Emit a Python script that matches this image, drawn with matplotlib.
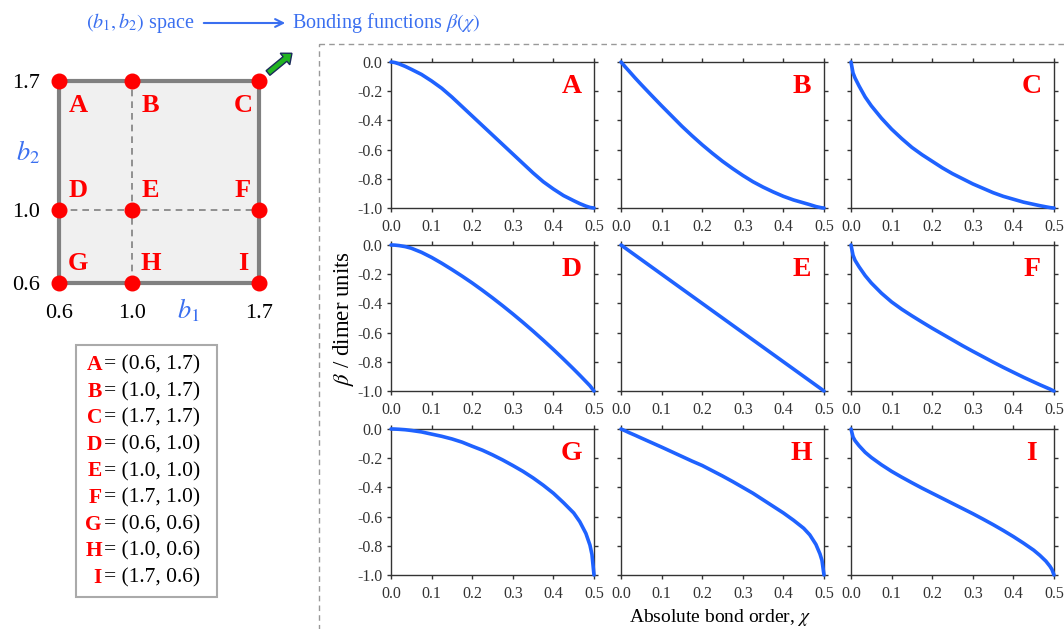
import numpy as np
import matplotlib.pyplot as plt
from matplotlib.patches import Rectangle, FancyArrow

# (b1, b2) grid points
point_labels = ['A', 'B', 'C', 'D', 'E', 'F', 'G', 'H', 'I']
b1_vals = [0.6, 1.0, 1.7, 0.6, 1.0, 1.7, 0.6, 1.0, 1.7]
b2_vals = [1.7, 1.7, 1.7, 1.0, 1.0, 1.0, 0.6, 0.6, 0.6]
b_ticks = [0.6, 1.0, 1.7]

# bonding functions beta(chi)
chi = [0, 0.005, 0.01, 0.02, 0.035, 0.05, 0.075, 0.1, 0.125, 0.15, 0.175, 0.2, 0.225, 0.25,
       0.275, 0.3, 0.325, 0.35, 0.375, 0.4, 0.425, 0.45, 0.465, 0.48, 0.49, 0.495, 0.5]
beta_A = [0, -0.0015, -0.004, -0.013, -0.03, -0.05, -0.085, -0.13, -0.18, -0.24, -0.305, -0.37, -0.435, -0.5,
          -0.565, -0.63, -0.695, -0.76, -0.82, -0.87, -0.915, -0.95, -0.97, -0.987, -0.996, -0.9985, -1.0]
beta_B = [0, -0.016, -0.032, -0.063, -0.11, -0.155, -0.228, -0.30, -0.37, -0.44, -0.505, -0.567, -0.625, -0.68,
          -0.73, -0.777, -0.82, -0.857, -0.89, -0.92, -0.945, -0.965, -0.977, -0.99, -0.996, -0.999, -1.0]
beta_C = [0, -0.075, -0.11, -0.165, -0.24, -0.30, -0.385, -0.46, -0.525, -0.585, -0.635, -0.68, -0.725, -0.765,
          -0.80, -0.835, -0.865, -0.895, -0.92, -0.94, -0.96, -0.975, -0.984, -0.992, -0.997, -0.999, -1.0]
beta_D = [0, -0.0003, -0.001, -0.004, -0.011, -0.022, -0.05, -0.085, -0.125, -0.168, -0.213, -0.26, -0.31, -0.362,
          -0.416, -0.472, -0.53, -0.59, -0.652, -0.716, -0.782, -0.85, -0.892, -0.935, -0.964, -0.982, -1.0]
beta_E = [0, -0.01, -0.02, -0.04, -0.07, -0.1, -0.15, -0.2, -0.25, -0.3, -0.35, -0.4, -0.45, -0.5,
          -0.55, -0.6, -0.65, -0.7, -0.75, -0.8, -0.85, -0.9, -0.93, -0.96, -0.98, -0.99, -1.0]
beta_F = [0, -0.07, -0.105, -0.15, -0.21, -0.26, -0.33, -0.39, -0.44, -0.485, -0.528, -0.57, -0.61, -0.65,
          -0.69, -0.728, -0.765, -0.802, -0.838, -0.872, -0.906, -0.938, -0.957, -0.975, -0.987, -0.994, -1.0]
beta_G = [0, 0, -0.0005, -0.002, -0.005, -0.01, -0.02, -0.035, -0.05, -0.068, -0.09, -0.118, -0.145, -0.177,
          -0.212, -0.25, -0.29, -0.335, -0.385, -0.44, -0.505, -0.575, -0.635, -0.715, -0.795, -0.86, -1.0]
beta_H = [0, -0.006, -0.012, -0.025, -0.043, -0.062, -0.093, -0.124, -0.156, -0.188, -0.22, -0.25, -0.286, -0.322,
          -0.36, -0.40, -0.44, -0.485, -0.53, -0.575, -0.625, -0.68, -0.725, -0.79, -0.855, -0.90, -1.0]
beta_I = [0, -0.055, -0.08, -0.115, -0.16, -0.195, -0.245, -0.29, -0.33, -0.368, -0.405, -0.44, -0.475, -0.51,
          -0.545, -0.58, -0.617, -0.655, -0.695, -0.737, -0.782, -0.83, -0.865, -0.905, -0.94, -0.962, -1.0]
curves = [beta_A, beta_B, beta_C, beta_D, beta_E, beta_F, beta_G, beta_H, beta_I]
x_ticks = [0.0, 0.1, 0.2, 0.3, 0.4, 0.5]
y_ticks = [0.0, -0.2, -0.4, -0.6, -0.8, -1.0]

plt.rcParams['font.family'] = ['Liberation Serif', 'DejaVu Serif']
plt.rcParams['mathtext.fontset'] = 'stix'

W, H = 1064, 629
BLUE = '#3a6ff0'
LINE = '#1f62ff'
RED = '#ff0000'
DARK = '#333333'

fig = plt.figure(figsize=(W / 100, H / 100), dpi=100)


def box(l, t, w, h):
    return [l / W, 1 - (t + h) / H, w / W, h / H]


# overlay in pixel coords for decorations
ov = fig.add_axes([0, 0, 1, 1])
ov.set_xlim(0, W)
ov.set_ylim(H, 0)
ov.axis('off')

# ---- left: (b1, b2) square ----
sq = fig.add_axes(box(59, 81, 200, 202))
sq.set_xlim(0.6, 1.7)
sq.set_ylim(0.6, 1.7)
sq.patch.set_alpha(0)
for s in sq.spines.values():
    s.set_visible(False)
sq.add_patch(Rectangle((0.6, 0.6), 1.1, 1.1, fc='#f0f0f0', ec='#808080', lw=3, clip_on=False, zorder=1))
sq.plot([1.0, 1.0], [0.6, 1.7], ls=(0, (4, 3)), color='#808080', lw=1.2, zorder=2)
sq.plot([0.6, 1.7], [1.0, 1.0], ls=(0, (4, 3)), color='#808080', lw=1.2, zorder=2)
sq.plot(b1_vals, b2_vals, 'o', color=RED, ms=10.5, clip_on=False, zorder=5)
for lab, b1, b2 in zip(point_labels, b1_vals, b2_vals):
    dx = -16 if b1 > 1.5 else 19
    dy = -24 if b2 > 1.5 else 19
    sq.annotate(lab, (b1, b2), xytext=(dx, dy), textcoords='offset pixels',
                ha='center', va='center', color=RED, fontsize=19, fontweight='bold', zorder=6)
sq.set_xticks(b_ticks)
sq.set_yticks(b_ticks)
sq.set_xticklabels([f'{v:.1f}' for v in b_ticks])
sq.set_yticklabels([f'{v:.1f}' for v in b_ticks])
sq.tick_params(length=0, labelsize=16, colors='black')
sq.tick_params(axis='x', pad=15)
sq.tick_params(axis='y', pad=14)
ov.text(28, 152, r'$b_2$', color=BLUE, fontsize=19, ha='center', va='center')
ov.text(188, 310, r'$b_1$', color=BLUE, fontsize=19, ha='center', va='center')

# legend box
ov.add_patch(Rectangle((76, 345), 141, 252, fc='white', ec='#aaaaaa', lw=1.5))
for i, (lab, b1, b2) in enumerate(zip(point_labels, b1_vals, b2_vals)):
    y = 365 + i * 26.6
    ov.text(102, y, lab, color=RED, fontsize=15.5, fontweight='bold', ha='right', va='center')
    ov.text(104, y, f'= ({b1:.1f}, {b2:.1f})', color='black', fontsize=15.5, ha='left', va='center')

# green arrow
ov.add_patch(FancyArrow(268, 73, 17, -14, width=6, head_width=15, head_length=9,
                        length_includes_head=False, fc='#22b422', ec='#1a2a5a', lw=1))

# header
ov.text(86, 23, r'$(b_1, b_2)$ space', color=BLUE, fontsize=14.5, ha='left', va='center')
ov.annotate('', xy=(288, 23), xytext=(201, 23),
            arrowprops=dict(arrowstyle='->', color=BLUE, lw=1.5, mutation_scale=14))
ov.text(292, 23, r'Bonding functions $\beta(\chi)$', color=BLUE, fontsize=14.5, ha='left', va='center')

# dashed frame
ov.add_patch(Rectangle((319, 44), 800, 700, fc='none', ec='#999999', lw=1, ls=(0, (4, 3))))

# ---- right: 3x3 grid of beta(chi) ----
col_left = [391, 621, 851]
row_top = [62, 245, 429]
for k, (lab, beta) in enumerate(zip(point_labels, curves)):
    r, c = divmod(k, 3)
    ax = fig.add_axes(box(col_left[c], row_top[r], 203, 146))
    ax.plot(chi, beta, color=LINE, lw=2.6, solid_capstyle='round', solid_joinstyle='round',
            clip_on=False, zorder=3)
    ax.set_xlim(0, 0.5)
    ax.set_ylim(-1.0, 0.0)
    ax.set_xticks(x_ticks)
    ax.set_yticks(y_ticks)
    ax.set_xticklabels([f'{v:.1f}' for v in x_ticks])
    if c == 0:
        ax.set_yticklabels([f'{v:.1f}' for v in y_ticks])
    else:
        ax.set_yticklabels([])
    ax.tick_params(direction='out', length=3, width=1, colors=DARK, labelsize=11.5,
                   top=True, right=True)
    ax.tick_params(axis='x', pad=5)
    ax.tick_params(axis='y', pad=3)
    for s in ax.spines.values():
        s.set_color(DARK)
        s.set_linewidth(1)
    ax.text(0.89, 0.835, lab, transform=ax.transAxes, color=RED, fontsize=20,
            fontweight='bold', ha='center', va='center')

ov.text(343, 318, r'$\beta$ / dimer units', rotation=90, fontsize=16.5, ha='center', va='center')
ov.text(720, 617, r'Absolute bond order, $\chi$', fontsize=14, ha='center', va='center')

fig.savefig('out.png', dpi=100)
